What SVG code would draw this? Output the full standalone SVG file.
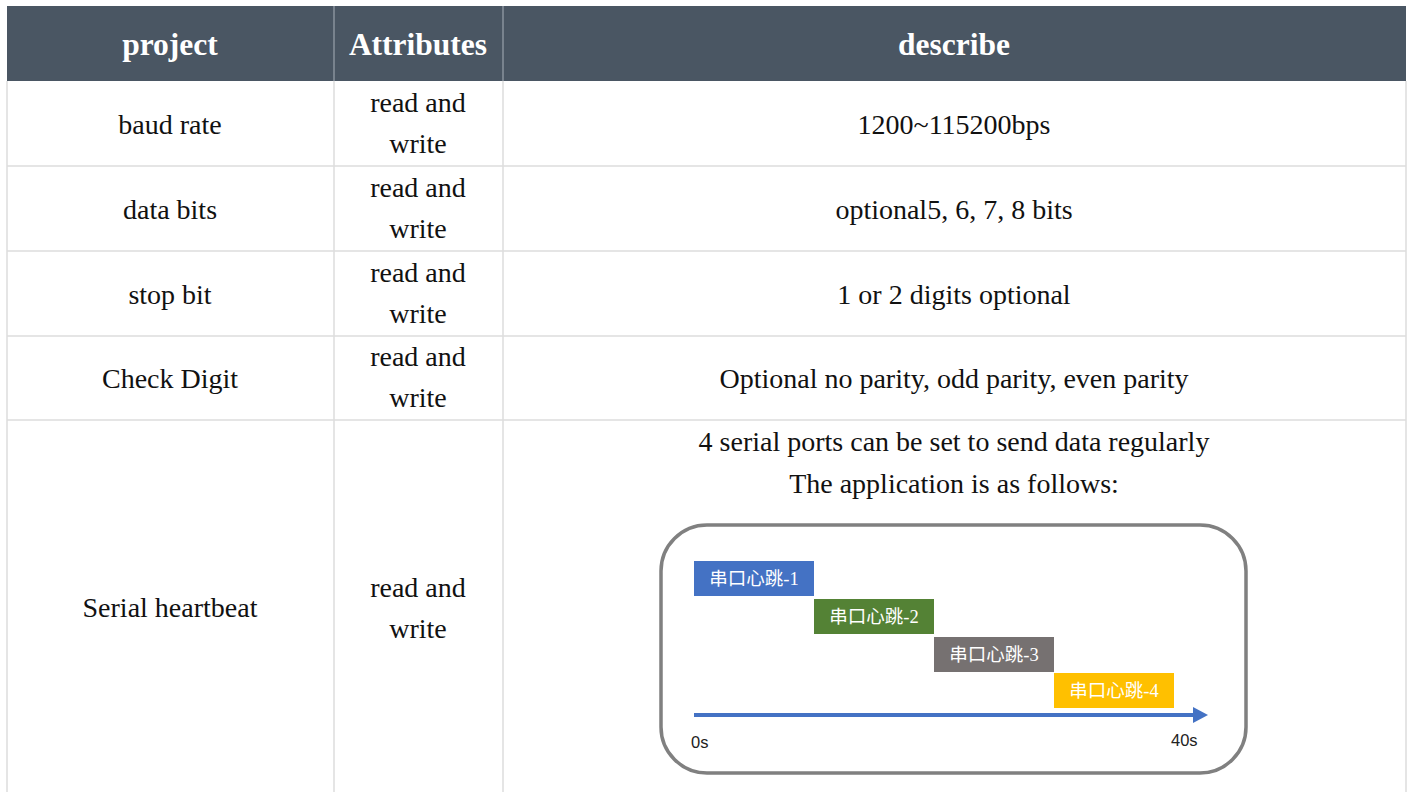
<svg xmlns="http://www.w3.org/2000/svg" width="1413" height="792" viewBox="0 0 1413 792">
  <style>
    .hdr { fill: #4a5663; }
    .grid { stroke: #dddddd; stroke-width: 1.5; fill: none; }
    .htxt { font-family: "Liberation Serif", "Times New Roman", serif; font-size: 31.5px; font-weight: bold; fill: #ffffff; text-anchor: middle; }
    .txt { font-family: "Liberation Serif", "Times New Roman", serif; font-size: 28px; fill: #111111; text-anchor: middle; }
    .bar-txt { font-family: "Liberation Serif", "Noto Sans CJK SC", serif; font-size: 18.5px; fill: #ffffff; text-anchor: middle; }
    .axis-txt { font-family: "Liberation Sans", Arial, sans-serif; font-size: 16.5px; fill: #222222; }
  </style>
  <defs>
    <marker id="arrow" markerWidth="15" markerHeight="16" refX="0" refY="8" orient="auto" markerUnits="userSpaceOnUse">
      <path d="M0,0 L15,8 L0,16 Z" fill="#4472c4"/>
    </marker>
  </defs>

  <rect width="1413" height="792" fill="#ffffff"/>

  <!-- header row -->
  <g id="header">
    <rect class="hdr" x="7" y="6" width="1399" height="75"/>
    <line x1="334" y1="6" x2="334" y2="81" stroke="#8a939d" stroke-width="1.5"/>
    <line x1="503" y1="6" x2="503" y2="81" stroke="#8a939d" stroke-width="1.5"/>
    <text class="htxt" x="170" y="55">project</text>
    <text class="htxt" x="418" y="55">Attributes</text>
    <text class="htxt" x="954" y="55">describe</text>
  </g>

  <!-- table grid -->
  <g id="grid" class="grid">
    <line x1="7" y1="81" x2="7" y2="792"/>
    <line x1="1406" y1="81" x2="1406" y2="792"/>
    <line x1="334" y1="81" x2="334" y2="792"/>
    <line x1="503" y1="81" x2="503" y2="792"/>
    <line x1="7" y1="166" x2="1406" y2="166"/>
    <line x1="7" y1="251" x2="1406" y2="251"/>
    <line x1="7" y1="336" x2="1406" y2="336"/>
    <line x1="7" y1="420" x2="1406" y2="420"/>
  </g>

  <g id="row-baud">
    <text class="txt" x="170" y="134">baud rate</text>
    <text class="txt" x="418" y="112">read and</text>
    <text class="txt" x="418" y="153">write</text>
    <text class="txt" x="954" y="134">1200~115200bps</text>
  </g>

  <g id="row-data">
    <text class="txt" x="170" y="219">data bits</text>
    <text class="txt" x="418" y="197">read and</text>
    <text class="txt" x="418" y="238">write</text>
    <text class="txt" x="954" y="219">optional5, 6, 7, 8 bits</text>
  </g>

  <g id="row-stop">
    <text class="txt" x="170" y="304">stop bit</text>
    <text class="txt" x="418" y="282">read and</text>
    <text class="txt" x="418" y="323">write</text>
    <text class="txt" x="954" y="304">1 or 2 digits optional</text>
  </g>

  <g id="row-check">
    <text class="txt" x="170" y="388">Check Digit</text>
    <text class="txt" x="418" y="366">read and</text>
    <text class="txt" x="418" y="407">write</text>
    <text class="txt" x="954" y="388">Optional no parity, odd parity, even parity</text>
  </g>

  <g id="row-heartbeat">
    <text class="txt" x="170" y="617">Serial heartbeat</text>
    <text class="txt" x="418" y="597">read and</text>
    <text class="txt" x="418" y="638">write</text>
    <text class="txt" x="954" y="451">4 serial ports can be set to send data regularly</text>
    <text class="txt" x="954" y="493">The application is as follows:</text>
  </g>

  <!-- heartbeat timeline panel -->
  <g id="timeline-frame">
    <rect x="661" y="525" width="585" height="248" rx="46" ry="46" fill="#ffffff" stroke="#808080" stroke-width="3.5"/>
  </g>

  <g id="hb1">
    <rect x="694" y="561" width="120" height="35" fill="#4472c4"/>
    <text class="bar-txt" x="754" y="585">串口心跳-1</text>
  </g>
  <g id="hb2">
    <rect x="814" y="599" width="120" height="35" fill="#548235"/>
    <text class="bar-txt" x="874" y="623">串口心跳-2</text>
  </g>
  <g id="hb3">
    <rect x="934" y="637" width="120" height="35" fill="#767171"/>
    <text class="bar-txt" x="994" y="661">串口心跳-3</text>
  </g>
  <g id="hb4">
    <rect x="1054" y="673" width="120" height="35" fill="#ffc000"/>
    <text class="bar-txt" x="1114" y="697">串口心跳-4</text>
  </g>

  <g id="connectors">
    <line x1="694" y1="715" x2="1193" y2="715" stroke="#4472c4" stroke-width="4" marker-end="url(#arrow)"/>
  </g>

  <g id="axis-labels">
    <text class="axis-txt" x="691" y="748">0s</text>
    <text class="axis-txt" x="1171" y="746">40s</text>
  </g>
</svg>
